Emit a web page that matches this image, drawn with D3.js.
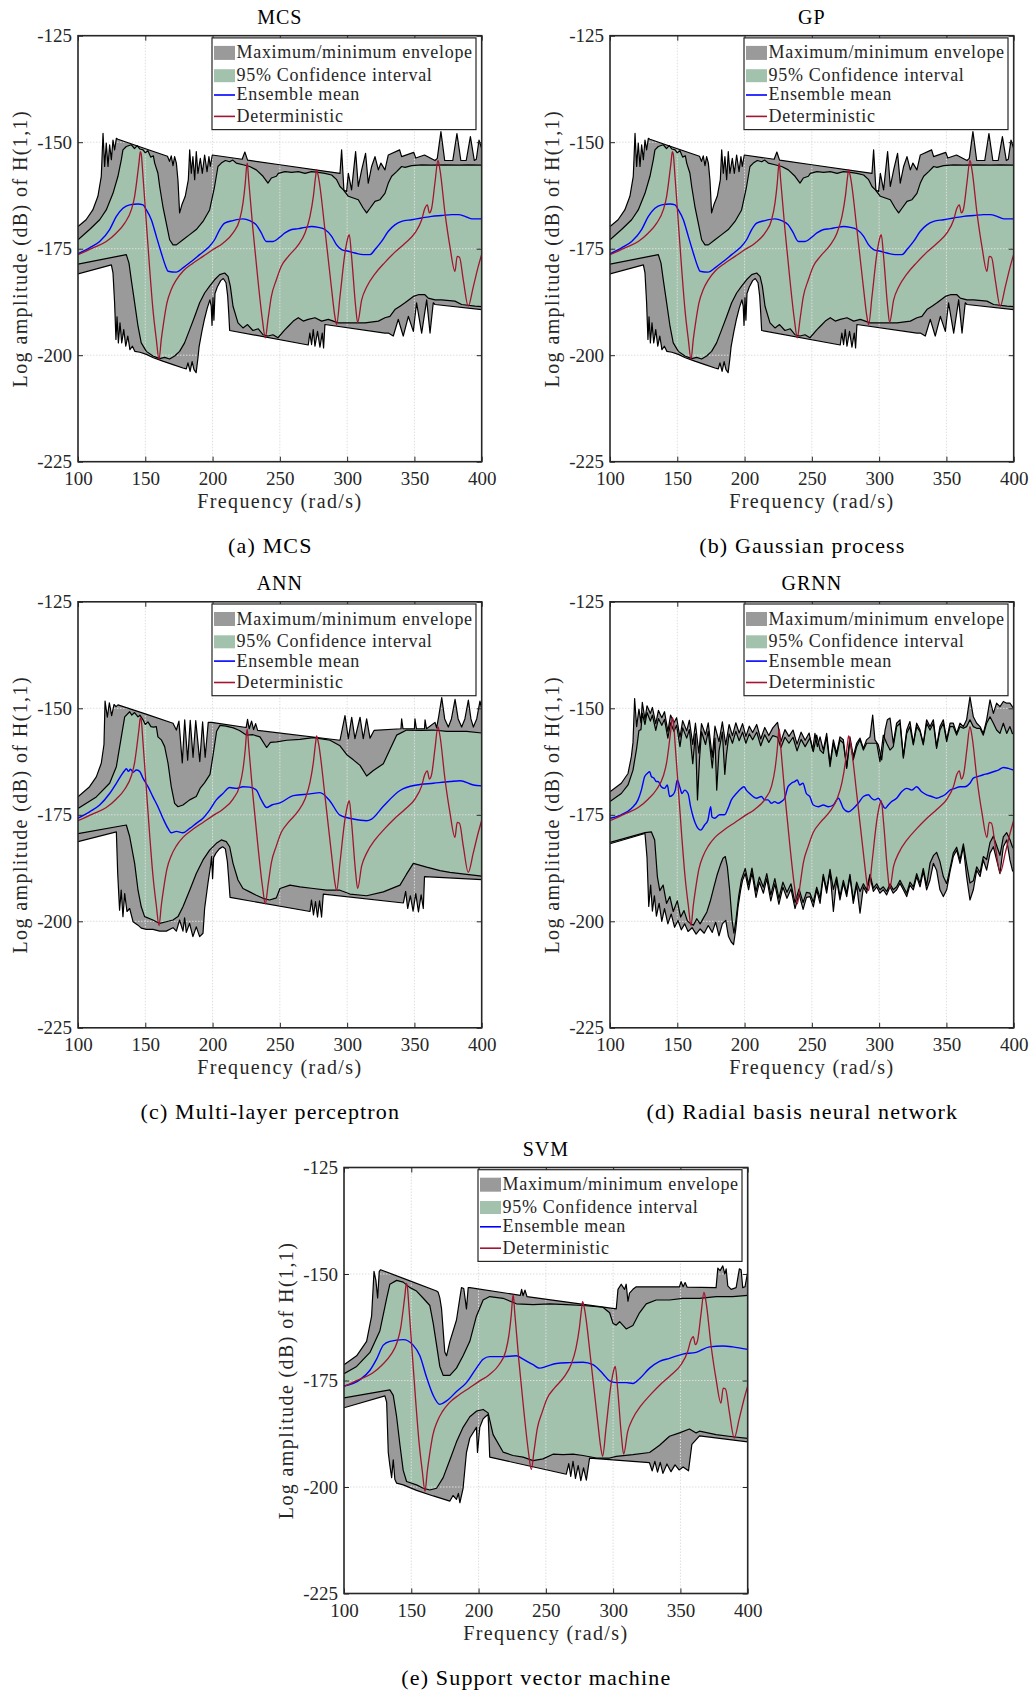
<!DOCTYPE html>
<html>
<head>
<meta charset="utf-8">
<script src="https://cdn.jsdelivr.net/npm/d3@7"></script>
<style>
  body { margin: 0; background: #fff; }
  text { font-family: "Liberation Serif", "Times New Roman", serif; fill: #262626; }
</style>
</head>
<body>
<svg id="fig" width="1033" height="1692"></svg>
<script>
// axis ticks
const freqTicks = [100, 150, 200, 250, 300, 350, 400];
const dbTicks = [-225, -200, -175, -150, -125];
const legendLabels = ["Maximum/minimum envelope", "95% Confidence interval", "Ensemble mean", "Deterministic"];

// deterministic FRF, same in every panel  [frequency rad/s, dB]
const detCurve = [[100,-176.4],[111.1,-174.8],[121,-173.3],[128.5,-171.3],[134.7,-169],[139.6,-165.9],[142.1,-162.7],[143.8,-158.8],[145.3,-154.9],[146.3,-152.2],[147,-152.8],[148.3,-158],[150.8,-169],[153.3,-179.9],[155.7,-189.3],[158.2,-196.3],[160.2,-201],[161.9,-196.3],[163.6,-192.4],[166.1,-187.7],[169.3,-184.6],[173.1,-182.3],[178,-180.3],[185.4,-178.4],[192.9,-176.8],[200.3,-175.2],[207.7,-173.7],[215.2,-171.3],[220.1,-168.2],[222.6,-164.3],[224.3,-159.6],[225.3,-155.7],[225.8,-154.9],[226.8,-158.8],[230,-170.5],[233.7,-182.3],[237,-191.6],[239.2,-195.9],[241.2,-191.6],[243.7,-186.2],[247.4,-182.3],[251.1,-179.1],[256.3,-176.8],[263.7,-174.1],[268.7,-171.3],[272.4,-167.4],[274.9,-162.7],[276.6,-158],[277.3,-156.5],[278.6,-158],[283.5,-170.5],[288.5,-184.6],[290.9,-190.9],[292.2,-192.8],[294.7,-186.2],[298.4,-176],[300.9,-172.1],[301.6,-171.7],[303.3,-176.8],[306.3,-188.5],[307.8,-192.3],[310.8,-187],[314.5,-184],[320.7,-180.9],[328.1,-178.2],[335.5,-175.8],[343,-173.7],[350.4,-171.3],[355.4,-168.2],[357.8,-165.5],[359.6,-164.7],[361.1,-166.6],[362.8,-165.5],[365.3,-159.4],[367.5,-154.3],[369,-156.5],[372.7,-166.6],[376.4,-174.5],[380.1,-180.3],[381.8,-176.8],[383.5,-177],[386.3,-182.3],[390,-188.5],[393.7,-184],[397.5,-179.1],[400,-176.3]];

// ---- MCS (the GP panel reads the same) ----
const mcsMax = [[100,-169.8],[106,-168.2],[111,-165.9],[114.8,-162.7],[117.3,-158],[118.6,-147.9],[119.8,-155.7],[121,-150.2],[122.3,-155.7],[123.5,-150.6],[124.8,-154.1],[126,-149.5],[127.2,-151.8],[128.5,-149.1],[129.7,-149.3],[148,-151.3],[166.5,-153.3],[168,-154.5],[169.3,-153.2],[170.6,-155.5],[171.8,-153.4],[173.1,-154.9],[174.3,-159],[175.5,-166.6],[177.2,-164.7],[179.7,-162.7],[182,-158.8],[183,-151.8],[184.2,-157.3],[185.4,-153.4],[186.7,-158.8],[187.9,-152.2],[189.1,-157.3],[190.9,-153.8],[192.4,-157.3],[194.1,-153],[195.9,-156.9],[197.3,-153.4],[198.3,-155.7],[199.8,-153],[222,-154],[224,-152.3],[226,-154.2],[250,-155.3],[294.7,-157.3],[295.9,-151.8],[297.6,-161.2],[299.6,-161.6],[300.9,-157.3],[303.3,-161.2],[306.3,-152.2],[308.3,-160.4],[310.8,-156.5],[313.7,-152.6],[315.7,-159.6],[318.2,-155.7],[320.7,-153.4],[323.2,-156.5],[325.1,-154.9],[328.1,-156.5],[330.6,-153],[339,-151.8],[340.5,-153.4],[349.5,-152.4],[351,-153.7],[357.5,-153],[365.3,-154.3],[367,-153.8],[369.7,-147.5],[372.5,-154.3],[378.5,-154.3],[381.6,-148],[384.5,-154.3],[388.5,-154.3],[391.6,-148.7],[394.5,-154.3],[396,-154],[398,-149.5],[400,-151.5]];
const mcsCiUp = [[100,-172.9],[108.6,-170.5],[116.1,-168.2],[121,-165.9],[126,-162],[129.7,-158],[132.2,-154.1],[133.4,-151.8],[135.9,-151],[139.6,-150.6],[142,-151.5],[144,-150.8],[146,-151.6],[148.3,-151.8],[150,-152.5],[152,-152],[154,-153.5],[156,-153.2],[157,-154.9],[159.4,-157.3],[160.7,-160.4],[163.1,-165.1],[165.6,-169],[168.1,-172.9],[170.6,-174.1],[173.1,-174.1],[178,-172.9],[183,-171.7],[187.9,-170.5],[192.9,-168.6],[197.8,-165.9],[201.5,-160.4],[204,-155.7],[206.5,-154.9],[209.5,-154.3],[212.7,-154.6],[215,-154.2],[217.6,-154.9],[222.6,-155.3],[227.6,-155.7],[232.5,-156.5],[237.5,-158],[241.2,-159.6],[243.7,-158.4],[247.4,-158],[248.9,-157.3],[253.8,-156.9],[258.8,-157.1],[263.7,-156.9],[268.7,-157.3],[273.6,-156.9],[278.6,-157.1],[283.5,-157.3],[288.5,-157.7],[292.2,-158.8],[294.7,-160.4],[297.2,-161.2],[300.9,-162.7],[304.6,-163.1],[308.3,-163.5],[312,-165.5],[314.5,-166.6],[317,-165.5],[320.7,-163.9],[324.4,-163.5],[328.1,-162],[330.6,-159.6],[333.1,-158],[336.8,-156.9],[340.5,-155.7],[343,-155.9],[348,-155.5],[355.4,-155.3],[362.8,-155.4],[372.7,-155.3],[382.6,-155.4],[390,-155.3],[400,-155.4]];
const mcsCiLow = [[100,-178.6],[135.9,-176.4],[137.9,-178.4],[139.6,-182.3],[142.1,-187.7],[144.6,-193.2],[147,-197.1],[150.8,-199.1],[155.7,-200.2],[160.7,-200.8],[164.4,-200.5],[168.1,-200.9],[171.8,-200.2],[175.5,-199.1],[179.2,-197.1],[183,-194],[186.7,-190.9],[190.4,-187.7],[194.1,-185.4],[197.8,-183.8],[201.5,-182.3],[205.3,-181.1],[209,-180.7],[211.5,-181.5],[213.2,-183.8],[215.2,-188.5],[218.9,-192.4],[222.6,-193.6],[226,-192.8],[230,-194.2],[234,-193.8],[237.5,-195.2],[241.2,-195.5],[244.9,-195.2],[248.6,-195.9],[253.8,-194],[256.3,-193.2],[260,-192],[263.7,-191.2],[267.4,-192],[271.1,-191.6],[276.1,-191.2],[281.1,-192],[286,-191.6],[289.7,-192],[293.4,-192.4],[303.3,-192.4],[313.3,-192.4],[323.2,-192],[328.1,-191.2],[331.8,-190.9],[335.5,-189.3],[339.3,-188.5],[343,-187.7],[349.2,-186.2],[352.9,-185.8],[357.8,-185.8],[360.3,-186.6],[365.3,-187],[370.2,-187],[380.1,-187.3],[385.1,-188.1],[395,-188.5],[400,-188.6]];
const mcsMin = [[100,-180.9],[124.8,-178.8],[126,-180.7],[127.2,-187.7],[128.2,-196.3],[129,-191],[130,-197.1],[131.2,-192.4],[132.5,-197.1],[134,-194],[135.5,-197.9],[137,-195.5],[138.6,-198.7],[140.4,-197.9],[142.3,-199.1],[146,-199.3],[150.8,-199.8],[156,-200.6],[163,-201.4],[170.6,-202.2],[178,-203],[180.5,-203.2],[181.7,-201.8],[183.3,-203.8],[184.8,-201.5],[186.2,-203.4],[187.8,-204.1],[189,-201],[190,-198],[192,-194.5],[194,-191.5],[196,-189],[198,-187],[199,-188.5],[199.6,-193],[200.3,-186.5],[201,-191.8],[201.8,-185.5],[203.5,-184],[206,-182.5],[208,-182],[210,-183],[211.2,-186],[212,-190],[212.7,-194.2],[271.1,-197.6],[272.3,-194.8],[273.6,-197.5],[274.8,-194],[276.1,-197.9],[278,-194.4],[279.8,-198.1],[281.5,-194.8],[282.5,-198.3],[283.5,-192.8],[328.1,-194.8],[330.6,-194.8],[334.3,-195.5],[338,-191.6],[341.7,-195.5],[345.5,-190.9],[349.2,-194.4],[351.6,-187.7],[355.4,-194.8],[359.1,-187],[361.6,-194.8],[364,-187.7],[365.3,-188.1],[400,-189.3]];
const mcsMean = [[100,-176.2],[108.6,-174.8],[116.1,-173.3],[123.5,-170.5],[128.5,-167.4],[133.4,-165.5],[138.4,-164.7],[144.6,-164.5],[148.3,-164.7],[150.8,-165.9],[154.5,-168.2],[158.2,-172.1],[161.9,-176],[165.1,-179.1],[166.9,-180.3],[173.1,-180.5],[178,-179.5],[184.2,-178],[190.4,-176.4],[196.6,-174.8],[201.5,-172.9],[205.3,-170.5],[209,-169],[215.2,-168.4],[222.6,-168],[227.6,-168.4],[232.5,-169.4],[236.2,-171.3],[240,-173.3],[244.9,-173.3],[249.9,-172.3],[253.8,-171.3],[258.8,-170.5],[263.7,-170.3],[268.7,-170],[273.6,-169.8],[278.6,-170],[283.5,-170.5],[288.5,-172.1],[292.2,-174.1],[295.9,-175.2],[300.9,-175.6],[305.8,-176],[312,-176.4],[317,-176.4],[320.7,-175.2],[325.6,-173.3],[330.6,-170.9],[335.5,-169.4],[340.5,-168.6],[348,-168.2],[355.4,-167.8],[362.8,-167.4],[370.2,-167.2],[377.7,-167],[382.6,-167],[387.6,-167.4],[392.5,-168],[400,-168]];

// ---- ANN ----
const annMax = [[100,-170.8],[108.6,-168.4],[113.6,-166.1],[117.3,-162.9],[119.3,-158.5],[120.1,-148.3],[121.8,-152.1],[123.3,-148.7],[125,-151.7],[126.8,-149.1],[128.2,-149.6],[129.7,-149.2],[150,-151.3],[170.6,-153.5],[173.1,-155.1],[175,-153],[177.5,-162.8],[179.3,-152.7],[181.5,-162.2],[183.4,-152.8],[185.5,-161.5],[187.5,-152.9],[190.5,-162.5],[192.6,-153.2],[194.5,-161.5],[196.8,-153.3],[199.3,-153.3],[225,-154.5],[226,-152.6],[227.2,-154.8],[229,-153],[230.5,-155],[232,-153.6],[233.5,-155.2],[294.7,-157.5],[298.4,-151.7],[300.9,-157.1],[303.4,-152.1],[305.8,-157.1],[309.6,-152.1],[312,-157.1],[314.5,-152.5],[317,-157],[320,-155.2],[340,-154.8],[340.5,-152.5],[341.5,-154.8],[350,-154.8],[350.4,-152.5],[351.5,-154.8],[357.5,-154.8],[357.9,-152.7],[359,-154.8],[365.3,-153.3],[366.5,-154.6],[368,-152],[370.3,-147.5],[372.5,-152.5],[375.2,-154.4],[377.5,-152.5],[380.2,-147.9],[382.5,-152.5],[385.1,-154.4],[387.5,-152.5],[390.1,-148.1],[392,-152.5],[393.8,-154.4],[396.3,-152.5],[398.7,-148.3],[400,-150]];
const annCiUp = [[100,-173.5],[113.6,-170.8],[123.5,-167.6],[128.5,-163.7],[132.2,-156.7],[134.7,-152],[138.4,-150.8],[140,-151.6],[142,-151],[144.6,-152],[146,-151.6],[148.3,-152.7],[150,-153.8],[152,-153.2],[154.2,-154.3],[156,-154.4],[158.2,-154.3],[159.4,-156.7],[161.9,-157.4],[164.4,-159],[166.9,-162.9],[169.3,-168.4],[171.8,-172.3],[174.3,-173.1],[178,-172.7],[183,-171.5],[187.9,-170.7],[190.7,-168.8],[194,-167.5],[198.1,-165.5],[200.6,-160.5],[203,-155.4],[205.5,-154],[210,-154.2],[215.4,-154.6],[220,-155.2],[225.3,-156.3],[230,-156.2],[235.2,-156.7],[240.2,-159.2],[243,-158],[247.6,-157.9],[255.1,-157.5],[265,-157.3],[274.9,-156.9],[287.3,-157.5],[294.7,-158.8],[299.7,-160.9],[304.6,-162.1],[309.6,-163.4],[314.5,-165.9],[319.5,-164.6],[326.9,-163],[331.9,-159.6],[336.8,-156.3],[344.2,-155.1],[354.2,-155.2],[364.1,-155.1],[374,-155.4],[388.8,-155.4],[400,-155.8]];
const annCiLow = [[100,-179.4],[135.9,-177.4],[138.4,-180.1],[142.1,-186.4],[144.6,-192.7],[147,-196.6],[149.5,-198.9],[155.7,-199.7],[160.7,-200.5],[165.6,-200.1],[170.6,-199.7],[174.3,-198.9],[178,-196.6],[183,-192.7],[187.9,-188.8],[192.9,-185.6],[197.8,-183.3],[202.8,-181.7],[206.5,-180.9],[210.2,-181.3],[212.7,-182.5],[215.2,-186.4],[218.9,-190.3],[222.6,-192.3],[227.6,-193.1],[232.5,-193.9],[237.5,-194.6],[242.4,-195],[247.4,-194.5],[250.1,-192.3],[257.5,-191.5],[265,-191.9],[274.9,-192.3],[284.8,-192.7],[294.7,-192.7],[302.1,-193.6],[314.5,-194],[326.9,-193.1],[339.3,-191.5],[344,-189],[349.2,-186.4],[359.1,-187.3],[369,-188.1],[376.4,-188.5],[388.8,-189],[400,-189.4]];
const annMin = [[100,-181.3],[128.5,-179],[129.5,-188.8],[130.9,-197.4],[132.1,-192.7],[133.4,-198.9],[134.7,-193.5],[136.4,-197.7],[138.4,-197],[140.9,-200.1],[144.6,-200.9],[147,-201.6],[150.8,-201.9],[155.7,-201.9],[160.7,-202.3],[165.6,-202.3],[170.6,-201.5],[173.1,-202.3],[175.5,-199.7],[178,-202.3],[179.2,-199.2],[180.5,-202.6],[182.9,-200.5],[185.4,-203.6],[187.9,-201.3],[190.4,-203.6],[192.9,-202.8],[194.1,-197],[196.6,-191],[198.5,-187],[199.3,-184.8],[200,-190],[200.8,-185],[202.5,-184],[205,-183],[207.5,-182.5],[209.5,-183],[211,-186],[212,-190],[213,-194.4],[272.4,-197.7],[273.5,-195],[275,-198.5],[276.5,-195.4],[278,-199],[279.5,-195.2],[281,-199],[282.3,-193.6],[341.8,-195.7],[343.5,-193],[345,-197],[347,-194],[349,-197.6],[351,-193.5],[353,-197.8],[355,-193.8],[356.6,-197],[357.5,-189.5],[400,-190.2]];
const annMean = [[100,-175.8],[108.6,-174.3],[116.1,-172.7],[123.5,-170],[128.5,-167.6],[132.2,-165.7],[134.7,-164.6],[136,-164.2],[137.5,-164.8],[139,-164.3],[141,-165],[143.3,-164.5],[145.8,-164.8],[148.3,-166.4],[152,-168.4],[155.7,-170.8],[159.4,-173.1],[163.1,-175.8],[166.9,-178.2],[169.3,-179.2],[173.1,-178.9],[178,-179.2],[183,-178.2],[187.9,-177],[192.9,-175.8],[197.8,-173.9],[202.8,-171.5],[207.7,-170],[212.7,-168.6],[217.6,-168.8],[222.6,-168.4],[227.6,-168.5],[232.5,-169.2],[236.2,-171.5],[240.2,-173.3],[244,-172.7],[250.1,-172.2],[260,-170.5],[272.4,-170.1],[279.8,-169.8],[287.3,-171.8],[294.7,-175.1],[304.6,-176],[314.5,-176.4],[318.2,-176],[326.9,-173],[339.3,-169.3],[351.7,-168],[364.1,-167.6],[376.4,-167.2],[383.9,-167],[393.8,-168],[400,-168.2]];

// ---- GRNN ----
const grnnMax = [[100,-169.6],[108.4,-167.6],[113.4,-165.3],[115.9,-161.3],[117.1,-158],[118.3,-147.7],[119.8,-154.3],[121.5,-150.2],[123,-153.4],[124,-148.6],[126,-152.6],[127.5,-149.4],[130,-151.2],[131.5,-149.8],[134,-153.6],[136,-150.5],[138.5,-152.2],[140.5,-150.8],[143,-155.4],[145,-151.6],[147.5,-153.4],[149.5,-152.2],[152,-156.8],[154,-152.9],[157,-155.3],[159,-152.8],[161.5,-158.5],[163.5,-153.5],[166,-160.5],[168,-153.6],[171,-156.2],[173,-153.4],[176,-161.5],[178,-154.2],[181,-157.8],[183.5,-153.2],[186,-158.6],[188.5,-153.8],[191,-156.4],[193.5,-153.4],[196,-155.8],[198.5,-153.6],[201,-156.6],[203.5,-154.2],[206,-155.7],[209,-153.8],[212,-157.2],[215,-154.5],[218,-156.4],[221,-154.6],[224.5,-153.3],[227,-157.8],[230,-155],[233,-156.6],[236,-155.1],[239,-158.4],[242,-155.6],[245,-157.5],[248,-155.8],[250.6,-159.8],[252.3,-155.9],[254.1,-159],[256.1,-156.7],[258.5,-159.8],[261,-155.9],[263.5,-162.9],[266,-157.4],[268.4,-160.6],[270.9,-156.7],[273.4,-157.4],[275.9,-163.7],[278.3,-156.7],[280.8,-161.3],[283.3,-158.2],[285.8,-157],[288.3,-159.4],[290.7,-157.4],[293.2,-156.7],[295.2,-151.6],[296.9,-157.4],[299.4,-158.6],[301.9,-162.1],[304.4,-155.1],[306.1,-152.7],[308.1,-152.3],[310.5,-158.2],[313,-153.5],[315.5,-152.7],[318,-161.3],[320.5,-155.1],[322.9,-153.1],[325.4,-158.2],[327.9,-153.5],[330.4,-155.1],[332.8,-158.2],[335.3,-152.7],[337.8,-154.3],[340.3,-152.7],[342.7,-159],[345.2,-154.3],[347.7,-152.7],[350.2,-157.4],[352.7,-153.5],[355.1,-153.5],[357.6,-155.9],[360.1,-153.5],[362.6,-154.3],[365,-152.7],[367.5,-147.3],[370,-152],[372.5,-153.5],[375,-154.3],[377.4,-155.9],[379.9,-152.7],[382.4,-148],[384.9,-151.2],[387.3,-148.8],[389.8,-149.6],[392.3,-148.4],[394.8,-148.8],[397.2,-148.8],[399,-149.6],[400,-150]];
const grnnCiUp = [[100,-171.9],[108.4,-170],[113.4,-168],[117.1,-164.5],[119.8,-159.4],[121.5,-155.2],[123,-155],[124,-151.2],[126,-153.8],[127.5,-151],[130,-153],[131.5,-151.6],[134,-155.2],[136,-152.4],[138.5,-154],[140.5,-152.6],[143,-157],[145,-153.4],[147.5,-155.4],[149.5,-154],[152,-159],[154,-154.6],[157,-157],[159,-155],[161.5,-163],[163.5,-156],[165,-171.5],[166.5,-162],[168,-155.5],[171,-158.5],[173,-155.4],[176,-164],[178,-157],[179.3,-169.2],[181,-160],[183.5,-155.6],[185.3,-165.5],[186.5,-161],[188.5,-156],[191,-158.2],[193.5,-155.4],[196,-157.6],[198.5,-155.6],[201,-158.2],[203.5,-156],[206,-157.4],[209,-155.6],[212,-158.8],[215,-156.2],[218,-158],[221,-156.4],[224.5,-156.8],[227,-159.2],[230,-156.8],[233,-158.2],[236,-156.8],[239,-160],[242,-157.3],[245,-159],[248.6,-157],[251.1,-160.2],[253.6,-156.3],[256.1,-159.8],[258.5,-160.6],[261,-156.7],[263.5,-163.7],[266,-158.2],[268.4,-161.3],[270.9,-157.4],[273.4,-158.2],[275.9,-164.1],[278.3,-157.4],[280.8,-162.1],[283.3,-159],[285.8,-157.4],[288.3,-159.8],[290.7,-158.2],[293.2,-158.2],[295.7,-158.2],[298.2,-158.2],[300.6,-162.5],[303.1,-156.3],[305.6,-158.2],[308.1,-159.8],[310.5,-159],[313,-154.3],[315.5,-153.5],[318,-161.7],[320.5,-155.9],[322.9,-154.3],[325.4,-158.6],[327.9,-154.3],[330.4,-155.5],[332.8,-158.6],[335.3,-153.5],[337.8,-155.1],[340.3,-153.5],[342.7,-159.4],[345.2,-155.1],[347.7,-153.5],[350.2,-157.8],[352.7,-154.3],[355.1,-154.3],[357.6,-156.3],[360.1,-154.3],[362.6,-154.7],[365,-154.3],[367.5,-152.7],[370,-154.3],[372.5,-154.7],[375,-154.7],[377.4,-156.3],[379.9,-153.5],[382.4,-152],[384.9,-153.5],[387.3,-155.1],[389.8,-155.9],[392.3,-153.5],[394.8,-155.9],[397.2,-154.3],[399,-155.9],[400,-156]];
const grnnCiLow = [[100,-181.5],[126,-179.2],[130.7,-179],[133.2,-180.9],[135.2,-189.5],[137,-192.8],[139.5,-191.5],[142,-195.8],[144.5,-194.2],[147,-197.7],[150,-195.2],[152.5,-199],[155,-197.5],[157.5,-199.9],[160,-200.6],[162,-200.9],[164.5,-199.4],[167,-200.6],[169.5,-199.2],[172,-197.8],[174.5,-195.3],[177,-192.2],[179.5,-189.2],[182,-186.8],[184,-185.2],[185.7,-184.8],[187.2,-187.2],[188.9,-192.6],[190.7,-199.7],[192.1,-202.8],[193.6,-199.7],[195.6,-194.2],[197.6,-190.3],[200.5,-187.6],[203,-191.4],[205.5,-187.5],[208.5,-193],[211,-189.6],[214,-192],[216.5,-188.8],[219.5,-193.8],[222.5,-190],[225.5,-194.6],[228.5,-190.8],[231.5,-193.2],[234.5,-191.2],[237.5,-195.6],[240.5,-192.4],[243.5,-195.6],[246,-193.2],[248.6,-193.4],[251.1,-195.5],[253.6,-192],[256.1,-194.6],[258.5,-189],[261,-192.6],[263.5,-187.8],[266,-192.5],[268.4,-189.6],[270.9,-194.2],[273.4,-190.4],[275.9,-193.4],[278.3,-189],[280.8,-195],[283.3,-190.8],[285.8,-193],[288.3,-191.2],[290.7,-192.6],[293.2,-189],[295.7,-192.2],[298.2,-191.2],[300.6,-192.6],[303.1,-191.9],[305.6,-193],[308.1,-191.2],[310.5,-192.6],[313,-191.9],[315.5,-190.4],[318,-191.9],[320.5,-193.4],[322.9,-190.8],[325.4,-191.9],[327.9,-188.8],[330.4,-191.1],[332.8,-187.6],[335.3,-191.6],[337.8,-186.4],[340.3,-184.6],[342.7,-183.8],[345.2,-186],[347.7,-189.5],[350.2,-191.2],[352.7,-187.6],[355.1,-184],[357.6,-182.6],[360.1,-185.6],[362.6,-181.8],[365,-186.5],[367.5,-191],[370,-190.5],[372.5,-187.2],[375,-188.6],[377.4,-184.8],[379.9,-185.5],[382.4,-181.5],[384.9,-180],[387.3,-182.2],[389.8,-184.5],[392.3,-180.2],[394.8,-179.2],[397.2,-180.8],[399,-182.5],[400,-183]];
const grnnMin = [[100,-181.8],[126,-179.4],[127.5,-185],[128.8,-196.5],[130.2,-191.5],[131.5,-197.6],[133,-194],[134.5,-198.8],[136.5,-195.8],[138.5,-200],[140.5,-197],[143,-200.6],[145.5,-198.3],[148,-201.4],[150.5,-199.8],[153,-202],[155.5,-200.6],[158,-202.4],[161,-201.5],[164,-203],[167,-201.8],[170,-202.8],[173,-201],[176,-202.6],[178.5,-200.2],[181,-203.4],[183.5,-200.6],[186,-199.8],[188,-203.5],[190,-204.8],[191.8,-205.5],[193.4,-202],[195.2,-196.5],[197,-192.8],[198.5,-190.4],[200.5,-188.8],[203,-192.6],[205.5,-188.6],[208.5,-194.4],[211,-190.8],[214,-193.4],[216.5,-190],[219.5,-195.2],[222.5,-191.2],[225.5,-196],[228.5,-192],[231.5,-194.6],[234.5,-192.4],[237.5,-197],[240.5,-193.6],[243.5,-197.2],[246,-194.4],[248.6,-194.2],[251.1,-196.6],[253.6,-192.6],[256.1,-195.8],[258.5,-189.5],[261,-193.4],[263.5,-188.3],[266,-197.7],[268.4,-190.3],[270.9,-195],[273.4,-191.1],[275.9,-194.2],[278.3,-189.5],[280.8,-195.8],[283.3,-191.5],[285.8,-198.1],[288.3,-191.9],[290.7,-193.4],[293.2,-189.5],[295.7,-193],[298.2,-191.9],[300.6,-193.4],[303.1,-192.6],[305.6,-193.8],[308.1,-191.9],[310.5,-193.4],[313,-192.6],[315.5,-191.1],[318,-192.6],[320.5,-194.2],[322.9,-191.5],[325.4,-192.6],[327.9,-189.5],[330.4,-191.9],[332.8,-188.3],[335.3,-192.6],[337.8,-190.3],[340.3,-186.4],[342.7,-188],[345.2,-192.6],[347.7,-194.2],[350.2,-192.6],[352.7,-188.3],[355.1,-184.8],[357.6,-183.3],[360.1,-186.4],[362.6,-182.5],[365,-189.5],[367.5,-195],[370,-192.6],[372.5,-188],[375,-189.5],[377.4,-185.6],[379.9,-188],[382.4,-184],[384.9,-182.5],[387.3,-185.6],[389.8,-188.8],[392.3,-182.5],[394.8,-180.9],[397.2,-185.6],[399,-188],[400,-188.5]];
const grnnMean = [[100,-175.8],[108.4,-175],[115.9,-173.5],[120.8,-171.5],[123.3,-169.2],[125.8,-166],[127.7,-165.3],[129.5,-164.9],[130.7,-166],[132.7,-166.4],[134.4,-167.2],[135.7,-167.2],[138.1,-168.4],[140.6,-168.8],[142.6,-168],[144.3,-170.7],[146.8,-170.3],[148.5,-169.2],[150,-166.8],[151.8,-168.4],[153.5,-170],[155.5,-169.2],[158,-170],[159.9,-173.1],[161.7,-175.4],[163.4,-177],[165.4,-178.2],[167.4,-178.6],[170.3,-177.4],[172.8,-176.2],[174.8,-173.1],[175.8,-175.5],[177.8,-175.8],[181.5,-175],[185.2,-175],[187.7,-173.5],[190.2,-171.5],[193.9,-170],[197.6,-168.8],[199.6,-168.4],[201.3,-169.2],[203.8,-170],[206.3,-170.7],[208.7,-171.1],[212.5,-170.7],[214.9,-171.5],[217.4,-171.5],[219.9,-172.3],[222.4,-171.9],[224.8,-172.3],[227.3,-171.9],[229.8,-171.1],[232.3,-168.4],[234.8,-167.6],[237.2,-167.2],[239.2,-166.8],[240.9,-168],[243.4,-167.6],[245.9,-170],[248.4,-170.7],[251.1,-172.7],[254.8,-173.1],[258.5,-172.7],[262.2,-173.1],[266,-172.7],[269.7,-171.1],[273.4,-173.5],[277.1,-174.3],[280.8,-173.5],[284.5,-172.3],[288.3,-170.7],[292,-170.3],[294.4,-171.1],[296.9,-171.5],[299.4,-171.1],[301.9,-172.3],[304.4,-173.5],[306.8,-172.7],[309.3,-171.9],[313,-171.1],[316.7,-169.6],[320.5,-168.8],[324.2,-169.2],[327.9,-168.4],[331.6,-169.6],[335.3,-170.3],[339,-170.7],[342.7,-171.1],[346.4,-170.7],[348.9,-170.3],[352.7,-169.2],[356.4,-168.8],[360.1,-168.4],[363.8,-168.4],[367.5,-167.6],[370,-166.4],[373.7,-166],[377.4,-165.6],[381.1,-165.3],[384.9,-164.9],[388.6,-164.5],[392.3,-163.9],[396,-164.1],[400,-164.5]];

// ---- SVM ----
const svmMax = [[100,-171.3],[109.4,-169.2],[116.8,-165.8],[120.5,-159.9],[122.3,-149.4],[123.7,-151.5],[125,-155.6],[126.2,-149.4],[127.2,-149],[148,-151.5],[168.8,-154],[170,-154.3],[171.2,-155.6],[172.5,-158.2],[174.9,-168.3],[176.2,-169.2],[178.7,-165.8],[183.6,-160.8],[186.1,-155.6],[187.3,-153.2],[189,-153.4],[191,-158.2],[192.3,-153.2],[193.5,-153.2],[231,-155],[232,-153.6],[233,-155.1],[234.5,-153.8],[236,-155.3],[302.3,-158.2],[303.6,-153.6],[306,-152.4],[308.5,-153.6],[309.7,-152.4],[311,-156.4],[312.2,-154.5],[314.7,-153.6],[317.2,-153],[349.3,-153],[350.5,-151.8],[352,-153],[353.5,-152],[355,-153.1],[376.5,-153.2],[377.8,-148.6],[379.5,-149.2],[381.5,-148.1],[383,-150],[384,-148.8],[385.2,-152.8],[387.7,-153.6],[391.4,-153.2],[393.8,-148.8],[395.1,-149],[396.3,-153.2],[398,-153],[400,-149.5]];
const svmCiUp = [[100,-173.4],[109.4,-171.7],[119.3,-168.4],[126.7,-163.3],[131.7,-155.7],[134.1,-152.4],[139.1,-151.5],[144,-151.9],[149,-153.2],[153.9,-154],[158.9,-155.7],[163.8,-157.4],[166.3,-161.6],[168.8,-166.7],[171.2,-171.7],[173.7,-173.8],[178.7,-173.8],[183.6,-172.1],[188.5,-169.2],[193.5,-165.8],[198.4,-159.9],[203.4,-156.1],[208.3,-155.3],[218.2,-155.7],[228.1,-157],[240.5,-157.2],[252.9,-157],[265.2,-157.2],[277.6,-157.4],[292.4,-157.8],[297.4,-159.1],[299.9,-161.6],[302.3,-162],[304.8,-161.2],[309.7,-162.9],[314.7,-162.1],[319.6,-159.1],[324.6,-157],[332,-156.1],[341.9,-156.1],[351.8,-155.7],[364.2,-155.7],[376.5,-155.3],[388.9,-155.3],[400,-155]];
const svmCiLow = [[100,-179.1],[134.1,-177.2],[136.6,-178.5],[139.1,-183.5],[141.6,-190.2],[144,-196.1],[146.5,-198.7],[153.9,-199.5],[158.9,-200.3],[163.8,-200.7],[168.8,-200.3],[173.7,-197.8],[178.7,-193.6],[183.6,-189.4],[188.5,-186],[193.5,-183.5],[198.4,-182.2],[203.4,-181.8],[207.1,-182.6],[210.8,-187.7],[218.2,-191.8],[225.6,-192.6],[233.1,-193],[240.5,-193.8],[247.9,-193.4],[255.3,-192.3],[262.8,-192.4],[270.2,-192.3],[277.6,-192.6],[287.5,-193.2],[297.4,-193.2],[302.3,-192.8],[314.7,-192.4],[327.1,-191.9],[334.5,-190.2],[341.9,-188.1],[349.3,-187.3],[356.7,-186.4],[361.7,-187.3],[364.2,-186.9],[376.5,-187.7],[388.9,-188.2],[400,-188.6]];
const svmMin = [[100,-181.4],[130.4,-178.6],[131.7,-180.1],[132.9,-191.9],[134.1,-195],[135.4,-197.8],[136.6,-193.6],[137.8,-198.2],[139.1,-199.1],[144,-199.5],[153.9,-200.8],[166.3,-202.1],[178.7,-203.3],[181,-202],[183.6,-202.9],[185,-201.5],[186.1,-203.7],[188.5,-200.3],[191,-191.9],[193.5,-188.5],[198.4,-186],[199.2,-191.9],[200.9,-186],[203.4,-184],[205,-183.5],[207.1,-183],[208.3,-193],[265.2,-197],[267,-194.5],[268.5,-197.5],[270.2,-194],[272,-198],[274,-195],[276,-198.5],[278,-195.5],[280.1,-198.4],[282.5,-193.2],[327,-194.3],[329,-196.2],[331,-194],[333,-196.5],[335,-194.2],[337,-196.8],[340,-194.6],[343,-196.4],[346,-194.8],[349,-196],[352,-195.3],[356,-196.2],[358.5,-190],[364.2,-188],[400,-189.4]];
const svmMean = [[100,-176.3],[111.9,-174.8],[119.3,-172.6],[124.2,-170],[129.2,-166.7],[134.1,-165.8],[144,-165.4],[151.4,-166.7],[156.4,-169.2],[161.3,-174.2],[166.3,-178.5],[171.2,-180.6],[176.2,-179.8],[183.6,-177.6],[191,-175.5],[198.4,-172.1],[203.4,-170],[208.3,-169.4],[218.2,-169.4],[228.1,-169.2],[233.1,-170],[240.5,-171.3],[245.4,-172.1],[250.4,-171.7],[257.8,-171],[267.7,-170.8],[277.6,-170.7],[285,-171.3],[292.4,-173.4],[297.4,-175.1],[302.3,-175.5],[309.7,-175.5],[314.7,-175.7],[319.6,-174.6],[327.1,-172.1],[334.5,-170.5],[341.9,-169.8],[351.8,-168.8],[361.7,-168.4],[371.6,-167.1],[381.5,-166.9],[388.9,-167.1],[400,-167.7]];

// ---- layout ----
const W = 403.7, H = 426;
const panels = [
  { id: "a", title: "MCS",  caption: "(a) MCS", x0: 78,  y0: 35.7,
    max: mcsMax, up: mcsCiUp, low: mcsCiLow, min: mcsMin, mean: mcsMean },
  // GP envelopes are indistinguishable from MCS at this resolution
  { id: "b", title: "GP",   caption: "(b) Gaussian process", x0: 610, y0: 35.7,
    max: mcsMax, up: mcsCiUp, low: mcsCiLow, min: mcsMin, mean: mcsMean },
  { id: "c", title: "ANN",  caption: "(c) Multi-layer perceptron", x0: 78, y0: 601.8,
    max: annMax, up: annCiUp, low: annCiLow, min: annMin, mean: annMean },
  { id: "d", title: "GRNN", caption: "(d) Radial basis neural network", x0: 610, y0: 601.8,
    max: grnnMax, up: grnnCiUp, low: grnnCiLow, min: grnnMin, mean: grnnMean },
  { id: "e", title: "SVM",  caption: "(e) Support vector machine", x0: 344, y0: 1167.5,
    max: svmMax, up: svmCiUp, low: svmCiLow, min: svmMin, mean: svmMean }
];

const svg = d3.select("#fig");

panels.forEach(p => {
  const g = svg.append("g").attr("transform", `translate(${p.x0},${p.y0})`);

  const x = d3.scaleLinear().domain([100, 400]).range([0, W]);
  const y = d3.scaleLinear().domain([-225, -125]).range([H, 0]);

  const line = d3.line().x(d => x(d[0])).y(d => y(d[1]));
  const smooth = d3.line().x(d => x(d[0])).y(d => y(d[1])).curve(d3.curveMonotoneX);

  g.append("clipPath").attr("id", "clip-" + p.id)
    .append("rect").attr("width", W).attr("height", H);
  const plot = g.append("g").attr("clip-path", `url(#clip-${p.id})`);

  // envelopes: grey = max/min, green = 95% band on top
  plot.append("path")
    .attr("d", line(p.max.concat(p.min.slice().reverse())) + "Z")
    .attr("fill", "#9a9a9a");
  plot.append("path")
    .attr("d", line(p.up.concat(p.low.slice().reverse())) + "Z")
    .attr("fill", "#a3c2ad");

  // dotted grid
  plot.selectAll(".gx").data(freqTicks.slice(1, -1)).enter().append("line")
    .attr("x1", d => x(d)).attr("x2", d => x(d)).attr("y1", 0).attr("y2", H)
    .attr("stroke", "#dedede").attr("stroke-width", 1).attr("stroke-dasharray", "1.5,1.5");
  plot.selectAll(".gy").data(dbTicks.slice(1, -1)).enter().append("line")
    .attr("x1", 0).attr("x2", W).attr("y1", d => y(d)).attr("y2", d => y(d))
    .attr("stroke", "#dedede").attr("stroke-width", 1).attr("stroke-dasharray", "1.5,1.5");

  // envelope outlines
  [p.max, p.up, p.low, p.min].forEach(s => {
    plot.append("path").attr("d", line(s))
      .attr("fill", "none").attr("stroke", "#000").attr("stroke-width", 1.2)
      .attr("stroke-linejoin", "round");
  });

  plot.append("path").attr("d", smooth(p.mean))
    .attr("fill", "none").attr("stroke", "#0000ff").attr("stroke-width", 1.4);
  plot.append("path").attr("d", smooth(detCurve))
    .attr("fill", "none").attr("stroke", "#a2142f").attr("stroke-width", 1.3);

  // axes, ticks pointing inwards on all four sides
  const styleAxis = sel => {
    sel.select(".domain").remove();
    sel.selectAll(".tick line").attr("stroke", "#262626");
    sel.selectAll(".tick text").attr("font-family", "Liberation Serif").attr("font-size", 19).attr("fill", "#262626");
  };
  g.append("g").attr("transform", `translate(0,${H})`)
    .call(d3.axisBottom(x).tickValues(freqTicks).tickSize(-5).tickPadding(10).tickFormat(d => String(d)))
    .call(styleAxis);
  g.append("g")
    .call(d3.axisLeft(y).tickValues(dbTicks).tickSize(-5).tickPadding(6).tickFormat(d => String(d)))
    .call(styleAxis);
  g.append("g")
    .call(d3.axisTop(x).tickValues(freqTicks).tickSize(-5).tickFormat(""))
    .call(styleAxis);
  g.append("g").attr("transform", `translate(${W},0)`)
    .call(d3.axisRight(y).tickValues(dbTicks).tickSize(-5).tickFormat(""))
    .call(styleAxis);

  g.append("rect").attr("width", W).attr("height", H)
    .attr("fill", "none").attr("stroke", "#262626").attr("stroke-width", 1.6);

  // legend
  const lg = g.append("g").attr("transform", "translate(134,2.2)");
  lg.append("rect").attr("width", 264).attr("height", 91.7)
    .attr("fill", "#fff").attr("stroke", "#262626").attr("stroke-width", 1.2);
  const rowY = [15, 37.8, 57.1, 78.5];
  lg.append("rect").attr("x", 2).attr("y", rowY[0] - 7).attr("width", 21).attr("height", 14).attr("fill", "#9a9a9a");
  lg.append("rect").attr("x", 2).attr("y", rowY[1] - 6.5).attr("width", 21).attr("height", 13).attr("fill", "#a3c2ad");
  lg.append("line").attr("x1", 2).attr("x2", 23).attr("y1", rowY[2]).attr("y2", rowY[2])
    .attr("stroke", "#0000ff").attr("stroke-width", 1.6);
  lg.append("line").attr("x1", 2).attr("x2", 23).attr("y1", rowY[3]).attr("y2", rowY[3])
    .attr("stroke", "#a2142f").attr("stroke-width", 1.6);
  lg.selectAll(".lt").data(legendLabels).enter().append("text")
    .attr("x", 24.5).attr("y", (d, i) => rowY[i] + 5.5)
    .attr("font-size", 18).attr("letter-spacing", 0.7)
    .text(d => d);

  // titles and labels
  g.append("text").attr("x", W / 2).attr("y", -11.4).attr("text-anchor", "middle")
    .attr("font-size", 20).attr("letter-spacing", 1).style("fill", "#000").text(p.title);
  g.append("text").attr("x", W / 2).attr("y", H + 46).attr("text-anchor", "middle")
    .attr("font-size", 20).attr("letter-spacing", 1.4).text("Frequency (rad/s)");
  g.append("text").attr("transform", `translate(-51,${H / 2}) rotate(-90)`)
    .attr("text-anchor", "middle").attr("font-size", 20).attr("letter-spacing", 1.4)
    .text("Log amplitude (dB) of H(1,1)");
  g.append("text").attr("x", W / 2 - 9.5).attr("y", H + 91).attr("text-anchor", "middle")
    .attr("font-size", 22).attr("letter-spacing", 1.15).style("fill", "#000").text(p.caption);
});
</script>
</body>
</html>
